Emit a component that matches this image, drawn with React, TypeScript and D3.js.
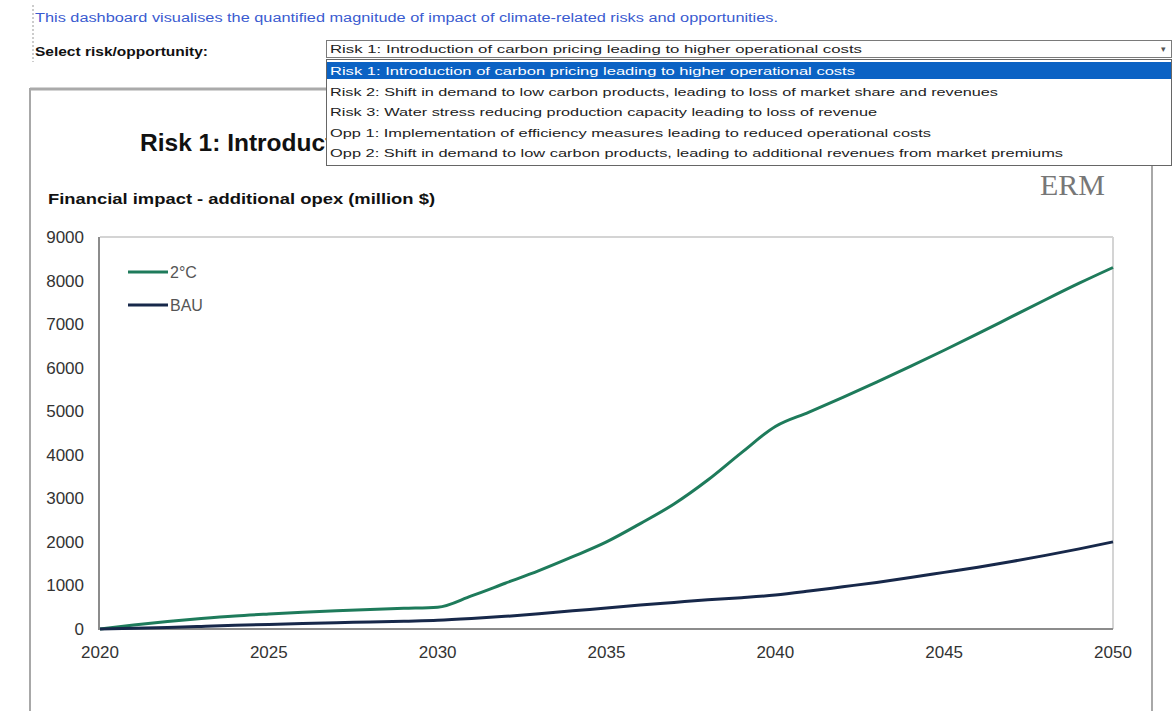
import React from "react";
import * as d3 from "d3";

const years = d3.range(2020, 2051);
const seriesNames = ["2°C", "BAU"];
const valuesTwoDeg = [0, 90, 170, 240, 300, 345, 385, 420, 450, 475, 500, 760, 1050, 1340, 1660, 2000, 2420, 2870, 3420, 4050, 4650, 4980, 5320, 5670, 6030, 6400, 6780, 7170, 7560, 7940, 8300];
const valuesBAU = [0, 15, 35, 60, 85, 105, 125, 145, 160, 180, 200, 240, 290, 350, 420, 480, 550, 610, 670, 720, 780, 870, 970, 1070, 1180, 1300, 1420, 1550, 1690, 1840, 2000];
const yTicks = [0, 1000, 2000, 3000, 4000, 5000, 6000, 7000, 8000, 9000];
const xTicks = [2020, 2025, 2030, 2035, 2040, 2045, 2050];
const options = [
  "Risk 1: Introduction of carbon pricing leading to higher operational costs",
  "Risk 2: Shift in demand to low carbon products, leading to loss of market share and revenues",
  "Risk 3: Water stress reducing production capacity leading to loss of revenue",
  "Opp 1: Implementation of efficiency measures leading to reduced operational costs",
  "Opp 2: Shift in demand to low carbon products, leading to additional revenues from market premiums",
];
const optionWidths = [525, 668, 547, 601, 733];
const colors = ["#1e7b5b", "#17284a"];

export default function App() {
  const x = d3.scaleLinear().domain([2020, 2050]).range([100, 1113]);
  const y = d3.scaleLinear().domain([0, 9000]).range([629, 237]);
  const line = d3
    .line<number>()
    .x((_, i) => x(years[i]))
    .y((d) => y(d))
    .curve(d3.curveMonotoneX);
  const series = [valuesTwoDeg, valuesBAU];
  const font = "Arial, 'Liberation Sans', sans-serif";

  return (
    <svg
      width={1173}
      height={711}
      style={{ position: "absolute", left: 0, top: 0, background: "#fff" }}
      fontFamily={font}
    >
      <defs>
        <clipPath id="titleClip">
          <rect x={30} y={100} width={296} height={70} />
        </clipPath>
      </defs>
      <rect x={0} y={0} width={1173} height={711} fill="#fff" />
      {/* header */}
      <line x1={33} y1={5} x2={33} y2={62} stroke="#999" strokeDasharray="2,2" />
      <text x={35} y={22} fontSize={12} fill="#3a5bd0" textLength={743} lengthAdjust="spacingAndGlyphs">
        This dashboard visualises the quantified magnitude of impact of climate-related risks and opportunities.
      </text>
      <text x={35} y={56} fontSize={12} fontWeight="bold" fill="#111" textLength={173} lengthAdjust="spacingAndGlyphs">
        Select risk/opportunity:
      </text>

      {/* panel */}
      <rect x={30} y={89} width={1122} height={640} fill="#fff" stroke="#a8a8a8" strokeWidth={2} />
      <line x1={30} y1={89} x2={1152} y2={89} stroke="#aaa" strokeWidth={3} />

      <text x={140} y={151} fontSize={24.5} fontWeight="bold" fill="#111" clipPath="url(#titleClip)">
        Risk 1: Introduction of carbon pricing leading to higher operational costs
      </text>
      <text x={48} y={204} fontSize={15} fontWeight="bold" fill="#111" textLength={387} lengthAdjust="spacingAndGlyphs">
        Financial impact - additional opex (million $)
      </text>
      <text x={1040} y={195} fontSize={30} fill="#777" fontFamily="'Liberation Serif', 'DejaVu Serif', serif">
        ERM
      </text>

      {/* plot frame */}
      <line x1={100} y1={237} x2={1113} y2={237} stroke="#d4d4d4" strokeWidth={2} />
      <line x1={1113} y1={237} x2={1113} y2={629} stroke="#d4d4d4" strokeWidth={2} />
      <line x1={99} y1={237} x2={99} y2={630} stroke="#8c8c8c" strokeWidth={2} />
      <line x1={99} y1={629} x2={1113} y2={629} stroke="#8c8c8c" strokeWidth={2} />

      {yTicks.map((t) => (
        <text key={t} x={84} y={y(t)} dy="0.35em" fontSize={17} fill="#333" textAnchor="end">
          {t}
        </text>
      ))}
      {xTicks.map((t) => (
        <text key={t} x={x(t)} y={658} fontSize={17} fill="#333" textAnchor="middle">
          {t}
        </text>
      ))}

      {series.map((s, i) => (
        <path key={i} d={line(s) || ""} fill="none" stroke={colors[i]} strokeWidth={3} />
      ))}

      {/* legend */}
      {seriesNames.map((n, i) => (
        <g key={n}>
          <line x1={128} x2={168} y1={272 + i * 33} y2={272 + i * 33} stroke={colors[i]} strokeWidth={3} />
          <text x={170} y={272 + i * 33} dy="0.35em" fontSize={16} fill="#555">
            {n}
          </text>
        </g>
      ))}

      {/* dropdown combobox */}
      <rect x={326.5} y={40.5} width={845} height={17} fill="#fff" stroke="#7a7a7a" />
      <text x={330} y={53} fontSize={11.5} fill="#222" textLength={532} lengthAdjust="spacingAndGlyphs">
        {options[0]}
      </text>
      <text x={1163} y={52} fontSize={9} fill="#555" textAnchor="middle">
        ▾
      </text>
      {/* dropdown list */}
      <rect x={326.5} y={59.5} width={845} height={106} fill="#fff" stroke="#666" />
      <rect x={327} y={62} width={844} height={17} fill="#0b62c4" />
      {options.map((o, i) => (
        <text
          key={o}
          x={330}
          y={75 + i * 20.5}
          fontSize={11.5}
          fill={i === 0 ? "#fff" : "#222"}
          textLength={optionWidths[i]}
          lengthAdjust="spacingAndGlyphs"
        >
          {o}
        </text>
      ))}
    </svg>
  );
}
